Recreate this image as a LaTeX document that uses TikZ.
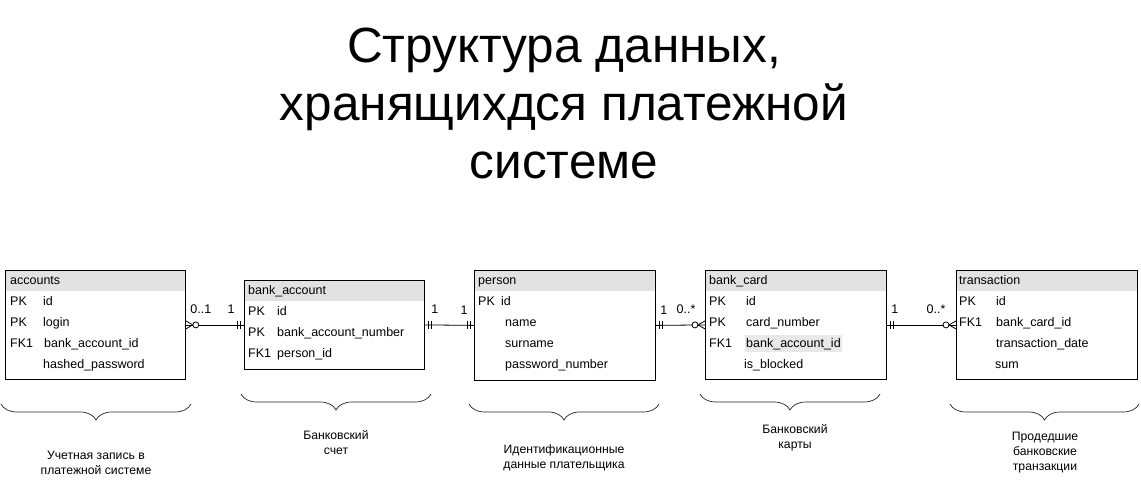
\documentclass[tikz,border=0pt]{standalone}
\usepackage{fontspec}
\setmainfont{Liberation Sans}
\usetikzlibrary{decorations.pathreplacing}
\definecolor{hdrgray}{HTML}{E2E2E2}
\definecolor{hlgray}{HTML}{E8E8E8}

\tikzset{
  erbox/.style={draw=black, line width=0.8pt, anchor=north west, inner sep=0pt,
    minimum width=181pt,
    path picture={\fill[hdrgray] (path picture bounding box.north west)
      rectangle ([yshift=-21pt]path picture bounding box.north east);}},
  cell/.style={anchor=base west, inner sep=0pt, font=\fontsize{12.5}{14}\selectfont},
  card/.style={anchor=base, inner sep=0pt, font=\fontsize{12.5}{14}\selectfont},
  conn/.style={draw=black, line width=0.8pt},
  note/.style={align=center, inner sep=0pt, font=\fontsize{12.2}{15}\selectfont},
  ttl/.style={anchor=base, inner sep=0pt, font=\fontsize{49.5}{58}\selectfont},
  curly/.style={draw=black!85, line width=0.7pt,
    decorate, decoration={brace, mirror, amplitude=16pt}},
  % crow's foot with a circle: zero or many
  crowzero/.pic={\draw[line width=0.8pt] (0,-4) -- (7,0) -- (0,4);
                 \draw[line width=0.8pt, fill=white] (10,0) circle (3);},
  % two bars: exactly one
  onebar/.pic={\draw[line width=0.8pt] (4,-4) -- (4,4);
               \draw[line width=0.8pt] (7,-4) -- (7,4);}
}

\begin{document}
\begin{tikzpicture}[x=1pt,y=-1pt]
\useasboundingbox (0,0) rectangle (1141,493);
\fill[white] (0,0) rectangle (1141,493);

% title
\node[ttl] (t1) at (564,62)  {Структура данных,};
\node[ttl] (t2) at (564,120) {хранящихдся платежной};
\node[ttl] (t3) at (564,178) {системе};

% tables
\node[erbox, minimum width=180pt, minimum height=109pt] (acc)  at (5,270)   {};
\node[erbox, minimum width=180pt, minimum height=89pt]  (bacc) at (244,280) {};
\node[erbox, minimum height=110pt] (per)  at (474,270) {};
\node[erbox, minimum height=109pt] (bc)   at (705,270) {};
\node[erbox, minimum height=109pt] (tr)   at (956,270) {};

% accounts
\node[cell] (acc-h)  at ([shift={(5,14)}]acc.north west) {accounts};
\node[cell] (acc-k1) at ([shift={(5,35)}]acc.north west) {PK};
\node[cell] (acc-k2) at ([shift={(5,56)}]acc.north west) {PK};
\node[cell] (acc-k3) at ([shift={(5,77)}]acc.north west) {FK1};
\node[cell] (acc-f1) at ([shift={(38,35)}]acc.north west) {id};
\node[cell] (acc-f2) at ([shift={(38,56)}]acc.north west) {login};
\node[cell] (acc-f3) at ([shift={(39,77)}]acc.north west) {bank\_account\_id};
\node[cell] (acc-f4) at ([shift={(38,98)}]acc.north west) {hashed\_password};

% bank_account
\node[cell] (bacc-h)  at ([shift={(4,14)}]bacc.north west) {bank\_account};
\node[cell] (bacc-k1) at ([shift={(4,35)}]bacc.north west) {PK};
\node[cell] (bacc-k2) at ([shift={(4,56)}]bacc.north west) {PK};
\node[cell] (bacc-k3) at ([shift={(4,77)}]bacc.north west) {FK1};
\node[cell] (bacc-f1) at ([shift={(33,35)}]bacc.north west) {id};
\node[cell] (bacc-f2) at ([shift={(33,56)}]bacc.north west) {bank\_account\_number};
\node[cell] (bacc-f3) at ([shift={(33,77)}]bacc.north west) {person\_id};

% person
\node[cell] (per-h)  at ([shift={(4,14)}]per.north west) {person};
\node[cell] (per-k1) at ([shift={(4,35)}]per.north west) {PK};
\node[cell] (per-f1) at ([shift={(27,35)}]per.north west) {id};
\node[cell] (per-f2) at ([shift={(31,56)}]per.north west) {name};
\node[cell] (per-f3) at ([shift={(31,77)}]per.north west) {surname};
\node[cell] (per-f4) at ([shift={(31,98)}]per.north west) {password\_number};

% bank_card
\node[cell] (bc-h)  at ([shift={(4,14)}]bc.north west) {bank\_card};
\node[cell] (bc-k1) at ([shift={(4,35)}]bc.north west) {PK};
\node[cell] (bc-k2) at ([shift={(4,56)}]bc.north west) {PK};
\node[cell] (bc-k3) at ([shift={(4,77)}]bc.north west) {FK1};
\node[cell] (bc-f1) at ([shift={(41,35)}]bc.north west) {id};
\node[cell] (bc-f2) at ([shift={(41,56)}]bc.north west) {card\_number};
\node[cell, fill=hlgray, inner xsep=1.5pt, inner ysep=3pt]
            (bc-f3) at ([shift={(39.5,77)}]bc.north west) {bank\_account\_id};
\node[cell] (bc-f4) at ([shift={(39,98)}]bc.north west) {is\_blocked};

% transaction
\node[cell] (tr-h)  at ([shift={(3,14)}]tr.north west) {transaction};
\node[cell] (tr-k1) at ([shift={(3,35)}]tr.north west) {PK};
\node[cell] (tr-k2) at ([shift={(3,56)}]tr.north west) {FK1};
\node[cell] (tr-f1) at ([shift={(40,35)}]tr.north west) {id};
\node[cell] (tr-f2) at ([shift={(40,56)}]tr.north west) {bank\_card\_id};
\node[cell] (tr-f3) at ([shift={(40,77)}]tr.north west) {transaction\_date};
\node[cell] (tr-f4) at ([shift={(39,98)}]tr.north west) {sum};

% relationships
\draw[conn] (acc.east) -- (bacc.west);
\pic at (acc.east) {crowzero};
\pic[xscale=-1] at (bacc.west) {onebar};
\node[card] (c1a) at ([shift={(15,-11)}]acc.east)  {0..1};
\node[card] (c1b) at ([shift={(-13,-11)}]bacc.west) {1};

\draw[conn] (bacc.east) -- (per.west);
\pic at (bacc.east) {onebar};
\pic[xscale=-1] at (per.west) {onebar};
\node[card] (c2a) at ([shift={(10,-11)}]bacc.east) {1};
\node[card] (c2b) at ([shift={(-10,-11)}]per.west) {1};

\draw[conn] (per.east) -- (bc.west);
\pic at (per.east) {onebar};
\pic[xscale=-1] at (bc.west) {crowzero};
\node[card] (c3a) at ([shift={(8,-11)}]per.east) {1};
\node[card] (c3b) at ([shift={(-19,-11)}]bc.west) {0..*};

\draw[conn] (bc.east) -- (tr.west);
\pic at (bc.east) {onebar};
\pic[xscale=-1] at (tr.west) {crowzero};
\node[card] (c4a) at ([shift={(8,-11)}]bc.east) {1};
\node[card] (c4b) at ([shift={(-20,-11)}]tr.west) {0..*};

% group braces and captions
\draw[curly] (1,404) -- (191,404);
\draw[curly] (241,394) -- (431,394);
\draw[curly] (469,404) -- (659,404);
\draw[curly] (700,394) -- (880,394);
\draw[curly] (950,404) -- (1139,404);

\node[note] (n1) at (96,463)   {Учетная запись в\\платежной системе};
\node[note] (n2) at (336,443)  {Банковский\\счет};
\node[note] (n3) at (564,458)  {Идентификационные\\данные плательщика};
\node[note] (n4) at (795,438)  {Банковский\\карты};
\node[note] (n5) at (1045,453) {Продедшие\\банковские\\транзакции};
\end{tikzpicture}
\end{document}
